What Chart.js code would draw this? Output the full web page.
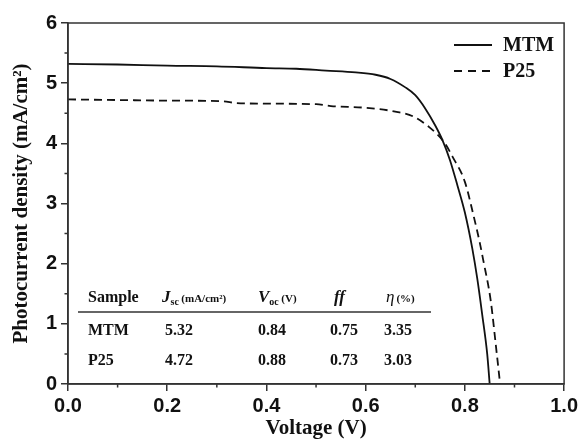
<!DOCTYPE html>
<html>
<head>
<meta charset="utf-8">
<script src="https://cdn.jsdelivr.net/npm/chart.js@4"></script>
<style>
  html, body { margin: 0; padding: 0; background: #fff; }
  canvas { display: block; }
</style>
</head>
<body>
<canvas id="ivChart" width="581" height="439"></canvas>
<script>
// J-V curves, voltage in V, current density in mA/cm2
const mtmVoltage = [0, 0.1, 0.2, 0.3, 0.4, 0.46, 0.52, 0.58, 0.62, 0.65, 0.68, 0.70, 0.72, 0.74, 0.755, 0.77, 0.785, 0.80, 0.815, 0.825, 0.835, 0.845, 0.85];
const mtmCurrent = [5.32, 5.31, 5.29, 5.28, 5.25, 5.24, 5.21, 5.18, 5.14, 5.07, 4.93, 4.80, 4.58, 4.30, 4.05, 3.72, 3.30, 2.85, 2.25, 1.75, 1.15, 0.5, 0];
const p25Voltage = [0, 0.1, 0.2, 0.31, 0.34, 0.4, 0.5, 0.53, 0.6, 0.665, 0.695, 0.728, 0.758, 0.775, 0.8, 0.818, 0.83, 0.837, 0.852, 0.863, 0.871];
const p25Current = [4.73, 4.72, 4.71, 4.70, 4.67, 4.66, 4.65, 4.62, 4.59, 4.52, 4.45, 4.27, 4.02, 3.78, 3.36, 2.78, 2.35, 2.06, 1.39, 0.6, 0];

// photovoltaic parameters table
const tableSamples = ["MTM", "P25"];
const tableJsc = ["5.32", "4.72"];
const tableVoc = ["0.84", "0.88"];
const tableFF = ["0.75", "0.73"];
const tableEta = ["3.35", "3.03"];

const seriesNames = ["MTM", "P25"];

function toPoints(xs, ys) {
    return xs.map((x, i) => ({ x: x, y: ys[i] }));
}

const serif = "'Liberation Serif', 'Times New Roman', serif";
const sans = "'Liberation Sans', Arial, sans-serif";
const ink = "#111";
const axisColor = "#333";

// frame, minor ticks, legend and the parameter table
const extrasPlugin = {
    id: "extras",
    afterDraw(chart) {
        const ctx = chart.ctx;
        const a = chart.chartArea;
        const xs = chart.scales.x;
        const ys = chart.scales.y;
        ctx.save();
        ctx.strokeStyle = axisColor;
        ctx.lineWidth = 1.5;
        ctx.strokeRect(a.left, a.top, a.right - a.left, a.bottom - a.top);

        // minor ticks (shorter than the labelled ones)
        ctx.beginPath();
        for (let i = 1; i < 10; i += 2) {
            const px = xs.getPixelForValue(i / 10);
            ctx.moveTo(px, a.bottom);
            ctx.lineTo(px, a.bottom + 3.5);
        }
        for (let i = 0; i < 6; i++) {
            const py = ys.getPixelForValue(i + 0.5);
            ctx.moveTo(a.left, py);
            ctx.lineTo(a.left - 3.5, py);
        }
        ctx.stroke();

        // legend
        ctx.strokeStyle = ink;
        ctx.fillStyle = ink;
        ctx.lineWidth = 2;
        ctx.font = "bold 20px " + serif;
        ctx.textBaseline = "middle";
        const legY = [45, 71];
        const dashes = [[], [8, 6]];
        seriesNames.forEach((name, i) => {
            ctx.setLineDash(dashes[i]);
            ctx.beginPath();
            ctx.moveTo(454, legY[i]);
            ctx.lineTo(492, legY[i]);
            ctx.stroke();
            ctx.setLineDash([]);
            ctx.fillText(name, 503, legY[i] + 1);
        });

        // table header
        ctx.textBaseline = "alphabetic";
        const headY = 302;
        ctx.font = "bold 16px " + serif;
        ctx.fillText("Sample", 88, headY);

        ctx.font = "italic bold 17px " + serif;
        ctx.fillText("J", 162, headY);
        let w = ctx.measureText("J").width;
        ctx.font = "bold 10px " + serif;
        ctx.fillText("sc", 162 + w, headY + 3);
        let w2 = ctx.measureText("sc ").width;
        ctx.font = "bold 11px " + serif;
        ctx.fillText("(mA/cm²)", 162 + w + w2, headY);

        ctx.font = "italic bold 17px " + serif;
        ctx.fillText("V", 258, headY);
        w = ctx.measureText("V").width;
        ctx.font = "bold 10px " + serif;
        ctx.fillText("oc", 258 + w, headY + 3);
        w2 = ctx.measureText("oc ").width;
        ctx.font = "bold 11px " + serif;
        ctx.fillText("(V)", 258 + w + w2, headY);

        ctx.font = "italic bold 17px " + serif;
        ctx.fillText("ff", 334, headY);

        ctx.font = "italic 17px " + serif;
        ctx.fillText("η", 386, headY);
        w = ctx.measureText("η").width;
        ctx.font = "bold 11px " + serif;
        ctx.fillText("(%)", 386 + w + 2, headY);

        ctx.strokeStyle = axisColor;
        ctx.lineWidth = 1.5;
        ctx.beginPath();
        ctx.moveTo(78, 312);
        ctx.lineTo(431, 312);
        ctx.stroke();

        // table rows
        ctx.font = "bold 16px " + serif;
        const rowY = [335, 365];
        tableSamples.forEach((s, i) => {
            ctx.fillText(s, 88, rowY[i]);
            ctx.fillText(tableJsc[i], 165, rowY[i]);
            ctx.fillText(tableVoc[i], 258, rowY[i]);
            ctx.fillText(tableFF[i], 330, rowY[i]);
            ctx.fillText(tableEta[i], 384, rowY[i]);
        });
        ctx.restore();
    }
};

new Chart(document.getElementById("ivChart"), {
    type: "line",
    data: {
        datasets: [
            {
                label: seriesNames[0],
                data: toPoints(mtmVoltage, mtmCurrent),
                borderColor: ink,
                borderWidth: 1.8,
                pointRadius: 0,
                cubicInterpolationMode: "monotone",
            },
            {
                label: seriesNames[1],
                data: toPoints(p25Voltage, p25Current),
                borderColor: ink,
                borderWidth: 1.8,
                borderDash: [8, 5],
                pointRadius: 0,
                cubicInterpolationMode: "monotone",
            },
        ],
    },
    options: {
        responsive: false,
        animation: false,
        layout: { padding: { top: 23, right: 14, left: 0, bottom: 0 } },
        plugins: {
            legend: { display: false },
            tooltip: { enabled: false },
        },
        scales: {
            x: {
                type: "linear",
                min: 0,
                max: 1,
                afterFit: (scale) => { scale.height = 55; },
                ticks: {
                    stepSize: 0.2,
                    autoSkip: false,
                    maxRotation: 0,
                    padding: 3,
                    color: ink,
                    font: { family: sans, size: 20, weight: "bold" },
                    callback: (v) => v.toFixed(1),
                },
                grid: { drawOnChartArea: false, tickLength: 7, color: axisColor, lineWidth: 1.5 },
                border: { color: axisColor, width: 1.5 },
                title: {
                    display: true,
                    text: "Voltage (V)",
                    color: ink,
                    font: { family: serif, size: 21, weight: "bold", lineHeight: 1 },
                    padding: { top: 0, bottom: 0 },
                },
            },
            y: {
                min: 0,
                max: 6,
                afterFit: (scale) => { scale.width = 68; },
                ticks: {
                    stepSize: 1,
                    autoSkip: false,
                    padding: 4,
                    color: ink,
                    font: { family: sans, size: 20, weight: "bold" },
                },
                grid: { drawOnChartArea: false, tickLength: 7, color: axisColor, lineWidth: 1.5 },
                border: { color: axisColor, width: 1.5 },
                title: {
                    display: true,
                    text: "Photocurrent density (mA/cm²)",
                    color: ink,
                    font: { family: serif, size: 21, weight: "bold", lineHeight: 1 },
                    padding: { top: 11, bottom: 0 },
                },
            },
        },
    },
    plugins: [extrasPlugin],
});
</script>
</body>
</html>
